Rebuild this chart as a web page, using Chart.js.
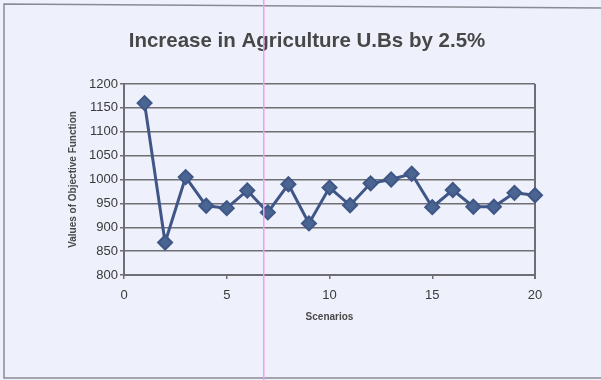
<!DOCTYPE html>
<html lang="en">
<head>
    <meta charset="UTF-8">
    <title>Increase in Agriculture U.Bs by 2.5%</title>
    <script src="https://cdn.jsdelivr.net/npm/chart.js"></script>
    <style>
        html, body { margin: 0; padding: 0; background: #eef0fb; }
        #wrap { width: 601px; height: 380px; position: relative; }
        canvas { filter: blur(0.45px); }
    </style>
</head>
<body>

<div id="wrap">
    <canvas id="ubChart" width="601" height="380"></canvas>
</div>

<script>
    // Scenario numbers and objective function values
    const scenarios = [1, 2, 3, 4, 5, 6, 7, 8, 9, 10, 11, 12, 13, 14, 15, 16, 17, 18, 19, 20];
    const objectiveValues = [1160, 868, 1005, 945, 940, 977, 931, 990, 908, 983, 946, 992, 1000, 1012, 942, 978, 943, 943, 972, 967];
    const xTicks = [0, 5, 10, 15, 20];
    const yTicks = [800, 850, 900, 950, 1000, 1050, 1100, 1150, 1200];

    const points = scenarios.map((s, i) => ({ x: s, y: objectiveValues[i] }));

    // Frame around the chart, right edge of the plot and the thin magenta rule
    const framePlugin = {
        id: "frame",
        beforeDraw(chart) {
            const ctx = chart.ctx;
            ctx.save();
            ctx.fillStyle = "#eef0fb";
            ctx.fillRect(0, 0, chart.width, chart.height);
            ctx.strokeStyle = "#8a8a92";
            ctx.lineWidth = 1.5;
            ctx.beginPath();
            ctx.moveTo(601, 8);
            ctx.lineTo(4, 4);
            ctx.lineTo(4, 378);
            ctx.lineTo(601, 378);
            ctx.stroke();
            ctx.restore();
        },
        beforeDatasetsDraw(chart) {
            const { ctx, chartArea } = chart;
            ctx.save();
            ctx.strokeStyle = "#6e6e74";
            ctx.lineWidth = 2;
            ctx.beginPath();
            ctx.moveTo(chartArea.right, chartArea.top);
            ctx.lineTo(chartArea.right, chartArea.bottom + 4);
            ctx.stroke();
            ctx.restore();
        },
        afterDraw(chart) {
            const ctx = chart.ctx;
            ctx.save();
            ctx.fillStyle = "#f79af2";
            ctx.fillRect(263, 0, 1.5, 380);
            ctx.restore();
        }
    };

    new Chart(document.getElementById("ubChart"), {
        type: "scatter",
        data: {
            datasets: [{
                data: points,
                showLine: true,
                clip: false,
                borderColor: "#3f5686",
                backgroundColor: "#3f5686",
                borderWidth: 3,
                pointStyle: "rectRot",
                pointRadius: 7,
                pointBorderWidth: 2,
                pointBorderColor: "#3f5686",
                pointBackgroundColor: "#4a6592"
            }]
        },
        options: {
            responsive: false,
            animation: false,
            devicePixelRatio: 1,
            layout: { padding: { left: 79, right: 66, top: 20, bottom: 57 } },
            plugins: {
                legend: { display: false },
                tooltip: { enabled: false },
                title: {
                    display: true,
                    text: "Increase in Agriculture U.Bs by 2.5%",
                    color: "#474747",
                    font: { family: "'Liberation Sans', Arial, sans-serif", size: 20.5, weight: "bold" },
                    padding: { top: 9, bottom: 30.4 }
                }
            },
            scales: {
                x: {
                    type: "linear",
                    min: 0,
                    max: 20,
                    afterFit: (scale) => { scale.height = 48; },
                    afterBuildTicks: (scale) => { scale.ticks = xTicks.map(v => ({ value: v })); },
                    grid: { display: true, drawOnChartArea: false, tickLength: 4, color: "#6e6e74", lineWidth: 1.5 },
                    border: { color: "#6e6e74", width: 2 },
                    ticks: {
                        color: "#3a3a3a",
                        padding: 9,
                        maxRotation: 0,
                        font: { family: "'Liberation Sans', Arial, sans-serif", size: 13 }
                    },
                    title: {
                        display: true,
                        text: "Scenarios",
                        color: "#4a4a4a",
                        font: { family: "'Liberation Sans', Arial, sans-serif", size: 10, weight: "bold" },
                        padding: { top: 0, bottom: 0 }
                    }
                },
                y: {
                    min: 800,
                    max: 1200,
                    afterFit: (scale) => { scale.width = 45; },
                    afterBuildTicks: (scale) => { scale.ticks = yTicks.map(v => ({ value: v })); },
                    grid: { color: "#6e6e74", lineWidth: 1.5, tickLength: 4 },
                    border: { color: "#6e6e74", width: 2 },
                    ticks: {
                        color: "#3a3a3a",
                        padding: 2,
                        callback: (v) => String(v),
                        font: { family: "'Liberation Sans', Arial, sans-serif", size: 13 }
                    },
                    title: {
                        display: true,
                        text: "Values of Objective Function",
                        color: "#4a4a4a",
                        font: { family: "'Liberation Sans', Arial, sans-serif", size: 10, weight: "bold" },
                        padding: { top: -11.4, bottom: 0 }
                    }
                }
            }
        },
        plugins: [framePlugin]
    });
</script>

</body>
</html>
